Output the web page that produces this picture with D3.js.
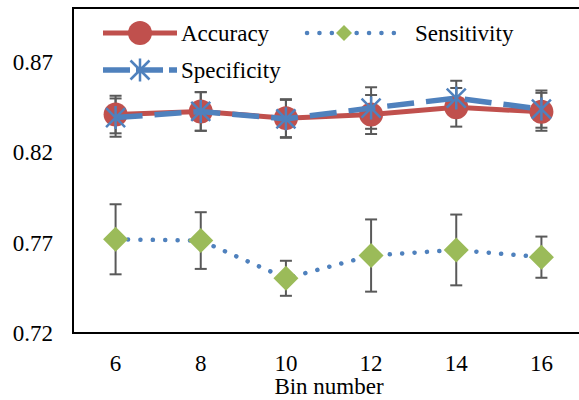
<!DOCTYPE html>
<html>
<head>
<meta charset="utf-8">
<script src="https://cdn.jsdelivr.net/npm/d3@7.9.0/dist/d3.min.js"></script>
<style>
  body { margin: 0; background: #fff; }
</style>
</head>
<body>
<svg id="chart" width="579" height="400"></svg>
<script>
// bin numbers on the x axis
const bins = ['6', '8', '10', '12', '14', '16'];
const yTicks = [0.72, 0.77, 0.82, 0.87];

// series values (mean and +/- error)
const accuracy = [0.841, 0.8427, 0.839, 0.841, 0.845, 0.8425];
const accuracyErr = [0.0104, 0.0107, 0.0105, 0.0108, 0.0107, 0.0105];
const sensitivity = [0.7719, 0.7712, 0.7503, 0.7629, 0.766, 0.762];
const sensitivityErr = [0.0194, 0.0157, 0.0097, 0.020, 0.0196, 0.0114];
const specificity = [0.8393, 0.8427, 0.8386, 0.8446, 0.8501, 0.844];
const specificityErr = [0.0106, 0.0107, 0.0105, 0.0115, 0.0096, 0.0103];

const FONT = "'Liberation Serif', 'Times New Roman', serif";

const svg = d3.select('#chart');
const plotLeft = 73, plotTop = 8, plotRight = 584, plotBottom = 333;

const x = d3.scaleBand().domain(bins).range([plotLeft, plotRight]);
const y = d3.scaleLinear().domain([0.72, 0.90]).range([plotBottom, plotTop]);
const cx = (d) => x(d) + x.bandwidth() / 2;

function label(sel) {
  return sel.attr('font-family', FONT).attr('font-size', 23).attr('fill', '#000');
}

// plot frame (right side falls outside the image)
svg.append('rect')
  .attr('x', plotLeft).attr('y', plotTop)
  .attr('width', plotRight - plotLeft + 10).attr('height', plotBottom - plotTop)
  .attr('fill', 'none').attr('stroke', '#000').attr('stroke-width', 2);

// y tick labels
svg.selectAll('.ylab').data(yTicks).join('text')
  .attr('x', 53).attr('y', (d) => y(d) + 8)
  .attr('text-anchor', 'end')
  .call(label)
  .text((d) => d.toFixed(2));

// x tick labels
svg.selectAll('.xlab').data(bins).join('text')
  .attr('x', (d) => cx(d)).attr('y', 371)
  .attr('text-anchor', 'middle')
  .call(label)
  .text((d) => d);

svg.append('text')
  .attr('x', 329).attr('y', 394)
  .attr('text-anchor', 'middle')
  .call(label)
  .text('Bin number');

// error bars first, under everything else
function errorBars(vals, errs) {
  const g = svg.append('g').attr('stroke', '#595959').attr('stroke-width', 2);
  bins.forEach((b, i) => {
    const xx = cx(b), y0 = y(vals[i] - errs[i]), y1 = y(vals[i] + errs[i]);
    g.append('line').attr('x1', xx).attr('x2', xx).attr('y1', y0).attr('y2', y1);
    g.append('line').attr('x1', xx - 6).attr('x2', xx + 6).attr('y1', y0).attr('y2', y0);
    g.append('line').attr('x1', xx - 6).attr('x2', xx + 6).attr('y1', y1).attr('y2', y1);
  });
}
errorBars(accuracy, accuracyErr);
errorBars(sensitivity, sensitivityErr);
errorBars(specificity, specificityErr);

const line = d3.line().x((d, i) => cx(bins[i])).y((d) => y(d));

const red = '#C0504D', blue = '#4F81BD', green = '#9BBB59';

function drawCircle(g, px, py) {
  g.append('circle').attr('cx', px).attr('cy', py).attr('r', 12).attr('fill', red);
}
function drawDiamond(g, px, py, r) {
  g.append('path')
    .attr('d', `M${px},${py - r}L${px + r},${py}L${px},${py + r}L${px - r},${py}Z`)
    .attr('fill', green);
}
function drawStar(g, px, py) {
  const r = 9.5;
  g.append('path')
    .attr('d', `M${px - r},${py - r}L${px + r},${py + r}M${px - r},${py + r}L${px + r},${py - r}M${px},${py - r - 2}L${px},${py + r + 2}`)
    .attr('stroke', blue).attr('stroke-width', 2.5).attr('fill', 'none');
}

// accuracy
svg.append('path').datum(accuracy).attr('d', line)
  .attr('fill', 'none').attr('stroke', red).attr('stroke-width', 5);
const gA = svg.append('g');
accuracy.forEach((v, i) => drawCircle(gA, cx(bins[i]), y(v)));

// sensitivity
svg.append('path').datum(sensitivity).attr('d', line)
  .attr('fill', 'none').attr('stroke', blue).attr('stroke-width', 4.5)
  .attr('stroke-linecap', 'round').attr('stroke-dasharray', '0.1 12.3');
const gS = svg.append('g');
sensitivity.forEach((v, i) => drawDiamond(gS, cx(bins[i]), y(v), 12.5));

// specificity
svg.append('path').datum(specificity).attr('d', line)
  .attr('fill', 'none').attr('stroke', blue).attr('stroke-width', 5.5)
  .attr('stroke-dasharray', '27 12');
const gP = svg.append('g');
specificity.forEach((v, i) => drawStar(gP, cx(bins[i]), y(v)));

// legend
const lg = svg.append('g');
const row1 = 33, row2 = 70;
lg.append('line').attr('x1', 103).attr('x2', 177).attr('y1', row1).attr('y2', row1)
  .attr('stroke', red).attr('stroke-width', 5);
drawCircle(lg, 140, row1);
lg.append('text').attr('x', 181).attr('y', row1 + 8).call(label).text('Accuracy');

lg.append('line').attr('x1', 307).attr('x2', 405).attr('y1', row1).attr('y2', row1)
  .attr('stroke', blue).attr('stroke-width', 4.5)
  .attr('stroke-linecap', 'round').attr('stroke-dasharray', '0.1 12.3');
drawDiamond(lg, 344, row1, 8);
lg.append('text').attr('x', 415).attr('y', row1 + 8).call(label).text('Sensitivity');

lg.append('line').attr('x1', 103).attr('x2', 177).attr('y1', row2).attr('y2', row2)
  .attr('stroke', blue).attr('stroke-width', 5.5).attr('stroke-dasharray', '27 6');
drawStar(lg, 140, row2);
lg.append('text').attr('x', 181).attr('y', row2 + 8).call(label).text('Specificity');
</script>
</body>
</html>
